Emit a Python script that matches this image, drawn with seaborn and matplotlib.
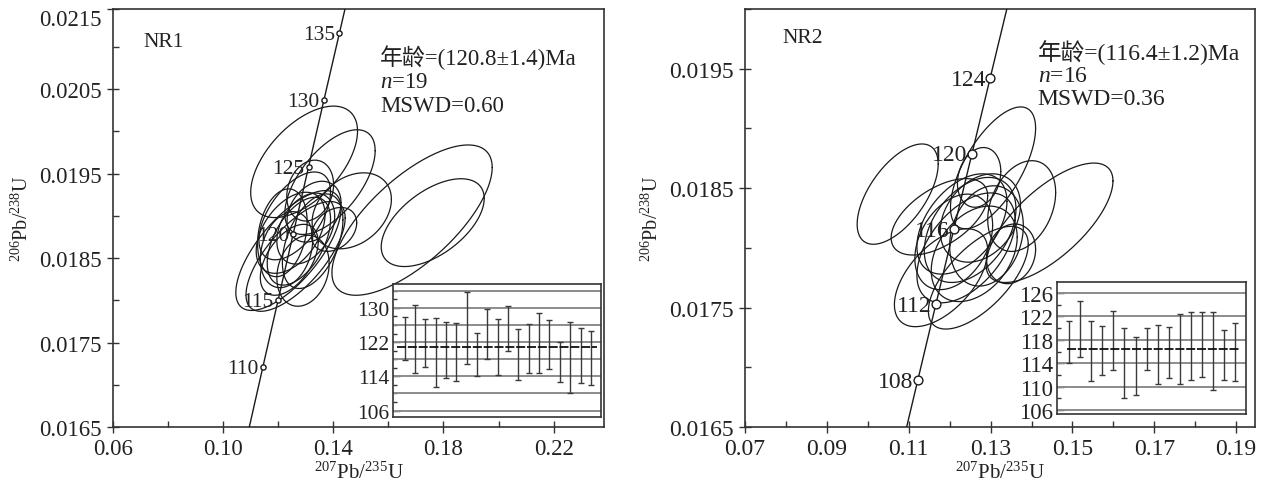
import numpy as np
import pandas as pd
import matplotlib
matplotlib.use("Agg")
import matplotlib.pyplot as plt
from matplotlib.ticker import MultipleLocator, FixedLocator, FixedFormatter
import seaborn as sns

# ---------------- data ----------------
# decay constants (1/yr)
L238 = 1.55125e-10
L235 = 9.8485e-10

# NR1 analyses: 207Pb/235U, err, 206Pb/238U, err, rho
nr1_x = [0.1294, 0.1388, 0.1316, 0.1686, 0.1761, 0.1467, 0.1403, 0.1237, 0.1263, 0.1245,
         0.1275, 0.1300, 0.1230, 0.1330, 0.1260, 0.1290, 0.1215, 0.1325, 0.1240]
nr1_sx = [0.0194, 0.0164, 0.0085, 0.0291, 0.0187, 0.0144, 0.0082, 0.0191, 0.0180, 0.0125,
          0.0115, 0.0105, 0.0095, 0.0098, 0.0130, 0.0095, 0.0090, 0.0110, 0.0105]
nr1_y = [0.01964, 0.01940, 0.01930, 0.01895, 0.01892, 0.01906, 0.01884, 0.01859, 0.01852, 0.01880,
         0.01870, 0.01885, 0.01860, 0.01905, 0.01900, 0.01835, 0.01880, 0.01870, 0.01848]
nr1_sy = [0.00066, 0.00062, 0.00036, 0.00089, 0.00052, 0.00045, 0.00026, 0.00071, 0.00065, 0.00048,
          0.00052, 0.00042, 0.00045, 0.00036, 0.00052, 0.00042, 0.00052, 0.00056, 0.00042]
nr1_rho = [0.55, 0.60, 0.20, 0.70, 0.55, 0.30, 0.30, 0.70, 0.70, 0.45,
           0.50, 0.35, 0.25, 0.30, 0.55, 0.20, 0.25, 0.45, 0.50]

# NR2 analyses
nr2_x = [0.1073, 0.1306, 0.1444, 0.1376, 0.1179, 0.1270, 0.1350, 0.1175, 0.1272, 0.1230,
         0.1250, 0.1210, 0.1275, 0.1240, 0.1290, 0.1260]
nr2_sx = [0.0099, 0.0104, 0.0155, 0.0083, 0.0114, 0.0122, 0.0060, 0.0118, 0.0053, 0.0110,
          0.0112, 0.0095, 0.0098, 0.0120, 0.0090, 0.0105]
nr2_y = [0.01845, 0.01867, 0.01821, 0.01835, 0.01775, 0.01775, 0.01795, 0.01826, 0.01859, 0.01820,
         0.01815, 0.01805, 0.01825, 0.01800, 0.01810, 0.01795]
nr2_sy = [0.00042, 0.00051, 0.00050, 0.00038, 0.00041, 0.00043, 0.00025, 0.00032, 0.00025, 0.00042,
          0.00044, 0.00040, 0.00037, 0.00046, 0.00042, 0.00040]
nr2_rho = [0.60, 0.65, 0.70, 0.30, 0.55, 0.65, 0.15, 0.55, 0.20, 0.45,
           0.40, 0.35, 0.30, 0.50, 0.20, 0.35]

# concordia age marks (Ma)
nr1_marks = [110, 115, 120, 125, 130, 135]
nr2_marks = [108, 112, 116, 120, 124]

# weighted-mean insets: 206Pb/238U ages and errors (Ma)
nr1_age = [122.9, 122.7, 121.7, 119.6, 120.15, 119.6, 125.3, 119.1, 123.9, 120.8,
           125.15, 119.1, 120.45, 121.8, 121.5, 117.3, 118.4, 118.9, 118.35]
nr1_err = [5.0, 8.0, 5.6, 8.1, 6.65, 6.8, 8.5, 5.0, 5.9, 6.5,
           5.25, 5.9, 5.75, 7.1, 5.7, 4.7, 8.4, 6.5, 6.35]
nr2_age = [117.65, 119.85, 116.15, 116.15, 117.85, 114.1, 113.45, 116.45, 115.5, 115.85,
           116.4, 116.9, 117.2, 116.05, 115.35, 115.95]
nr2_err = [3.65, 4.85, 5.15, 4.25, 5.05, 6.0, 4.95, 3.65, 5.0, 4.35,
           6.0, 5.8, 5.6, 6.65, 4.25, 4.95]

nr1_mean, nr2_mean = 120.8, 116.4
nr1_text = ["年龄=(120.8±1.4)Ma", "$n$=19", "MSWD=0.60"]
nr2_text = ["年龄=(116.4±1.2)Ma", "$n$=16", "MSWD=0.36"]

nr1_yticks = [0.0165, 0.0175, 0.0185, 0.0195, 0.0205, 0.02145]
nr1_ylabels = ["0.0165", "0.0175", "0.0185", "0.0195", "0.0205", "0.0215"]
nr1_xticks = [0.06, 0.10, 0.14, 0.18, 0.22]
nr2_yticks = [0.0165, 0.0175, 0.0185, 0.0195]
nr2_xticks = [0.07, 0.09, 0.11, 0.13, 0.15, 0.17, 0.19]

# ---------------- style ----------------
sns.set_theme(style="ticks")
plt.rcParams['font.family'] = ['Liberation Serif', 'Noto Sans CJK SC']
plt.rcParams['mathtext.fontset'] = 'custom'
plt.rcParams['mathtext.rm'] = 'Liberation Serif'
plt.rcParams['mathtext.it'] = 'Liberation Serif:italic'
plt.rcParams['axes.edgecolor'] = '#333333'
plt.rcParams['axes.linewidth'] = 1.2

TXT = '#222222'

fig = plt.figure(figsize=(12.64, 4.85), dpi=100)
axL = fig.add_axes([113/1264, 57/485, 491/1264, 418/485])
axR = fig.add_axes([745/1264, 57/485, 510/1264, 418/485])


def concordia(ages):
    t = np.asarray(ages, dtype=float) * 1e6
    return np.exp(L235 * t) - 1, np.exp(L238 * t) - 1


def draw_ellipses(ax, xs, sxs, ys, sys_, rhos):
    th = np.linspace(0, 2 * np.pi, 241)
    for x0, sx, y0, sy, r in zip(xs, sxs, ys, sys_, rhos):
        ex = x0 + sx * np.cos(th)
        ey = y0 + sy * (r * np.cos(th) + np.sqrt(1 - r * r) * np.sin(th))
        ax.plot(ex, ey, color='#1a1a1a', lw=0.9, zorder=3)


def main_panel(ax, xs, sxs, ys, sys_, rhos, marks, msize, xlim, ylim, fs, lfs):
    draw_ellipses(ax, xs, sxs, ys, sys_, rhos)
    tc = np.linspace(90, 150, 400)
    cx, cy = concordia(tc)
    sns.lineplot(x=cx, y=cy, ax=ax, color='#1a1a1a', lw=1.0, sort=False,
                 estimator=None, zorder=4)
    mx, my = concordia(marks)
    sns.scatterplot(x=mx, y=my, ax=ax, s=msize, facecolor='white',
                    edgecolor='#1a1a1a', linewidth=1.0, zorder=5)
    for a, px, py in zip(marks, mx, my):
        ax.annotate(str(a), (px, py), xytext=(-3, -1), textcoords='offset points',
                    ha='right', va='center', fontsize=lfs, color=TXT, zorder=6)
    ax.set_xlim(*xlim)
    ax.set_ylim(*ylim)
    ax.tick_params(which='major', direction='inout', length=8, width=1.0,
                   labelsize=fs, colors='#333333', labelcolor=TXT, pad=4)
    ax.tick_params(which='minor', direction='in', length=4, width=1.0, colors='#333333')
    ax.set_xlabel("$^{207}$Pb/$^{235}$U", fontsize=15, color=TXT, labelpad=2)
    ax.set_ylabel("$^{206}$Pb/$^{238}$U", fontsize=14.5, color=TXT, labelpad=5)
    for s in ax.spines.values():
        s.set_visible(True)


def inset(rect, ages, errs, mean, ylim, major, grid, mean_span, fs):
    ins = fig.add_axes(rect)
    ins.set_facecolor('white')
    idx = np.arange(1, len(ages) + 1)
    for g in grid:
        ins.axhline(g, color='#8c8c8c', lw=1.4, zorder=1)
    ins.errorbar(idx, ages, yerr=errs, fmt='none', ecolor='#3a3a3a',
                 elinewidth=1.0, capsize=2, capthick=1.0, zorder=3)
    ins.axhline(mean, xmin=mean_span[0], xmax=mean_span[1], color='#111111',
                lw=1.3, ls=(0, (5, 1)), zorder=4)
    ins.set_xlim(0 - 0.1 * (len(ages) / 19), len(ages) + 1 - 0.05 * len(ages) / 19)
    ins.set_ylim(*ylim)
    ins.set_xticks([])
    ins.yaxis.set_major_locator(FixedLocator(major))
    ins.yaxis.set_minor_locator(MultipleLocator(2))
    ins.tick_params(which='major', direction='in', length=5, width=1.0,
                    labelsize=fs, colors='#333333', labelcolor=TXT, pad=3)
    ins.tick_params(which='minor', direction='in', length=3, width=1.0, colors='#333333')
    for s in ins.spines.values():
        s.set_visible(True)
        s.set_color('#333333')
        s.set_linewidth(1.2)
    return ins


# ---- left panel ----
main_panel(axL, nr1_x, nr1_sx, nr1_y, nr1_sy, nr1_rho, nr1_marks, 14,
           (0.06, 0.2383), (0.0165, 0.02145), 16.5, 15.5)
axL.xaxis.set_major_locator(FixedLocator(nr1_xticks))
axL.xaxis.set_minor_locator(MultipleLocator(0.02))
axL.yaxis.set_major_locator(FixedLocator(nr1_yticks))
axL.yaxis.set_major_formatter(FixedFormatter(nr1_ylabels))
axL.yaxis.set_minor_locator(FixedLocator([0.0170, 0.0180, 0.0190, 0.0200, 0.0210]))
axL.set_xticklabels(["%.2f" % v for v in nr1_xticks])
axL.get_yticklabels()[-1].set_va('top')
axL.text(0.061, 0.923, "NR1", transform=axL.transAxes, fontsize=15.5, color=TXT,
         va='center', ha='left')
for i, t in enumerate(nr1_text):
    axL.text(0.544, 0.885 - i * 0.058, t, transform=axL.transAxes, fontsize=16.5,
             color=TXT, va='center', ha='left')

# ---- right panel ----
main_panel(axR, nr2_x, nr2_sx, nr2_y, nr2_sy, nr2_rho, nr2_marks, 40,
           (0.07, 0.1946), (0.0165, 0.0200), 17, 17)
axR.xaxis.set_major_locator(FixedLocator(nr2_xticks))
axR.xaxis.set_minor_locator(MultipleLocator(0.01))
axR.yaxis.set_major_locator(FixedLocator(nr2_yticks))
axR.yaxis.set_minor_locator(MultipleLocator(0.0005))
axR.set_xticklabels(["%.2f" % v for v in nr2_xticks])
axR.set_yticklabels(["%.4f" % v for v in nr2_yticks])
axR.text(0.073, 0.933, "NR2", transform=axR.transAxes, fontsize=15.5, color=TXT,
         va='center', ha='left')
for i, t in enumerate(nr2_text):
    axR.text(0.574, 0.897 - i * 0.056, t, transform=axR.transAxes, fontsize=17,
             color=TXT, va='center', ha='left')

# ---- insets ----
inset([393.3/1264, 67/485, 207.4/1264, 133.5/485], nr1_age, nr1_err, nr1_mean,
      (104.5, 135.7), [106, 114, 122, 130], list(range(106, 135, 4)), (0.019, 0.984), 15.5)
inset([1057/1264, 70/485, 189/1264, 132/485], nr2_age, nr2_err, nr2_mean,
      (105.3, 127.9), [106, 110, 114, 118, 122, 126], list(range(106, 127, 4)), (0.052, 0.962), 16.5)

fig.savefig("out.png", dpi=100)
